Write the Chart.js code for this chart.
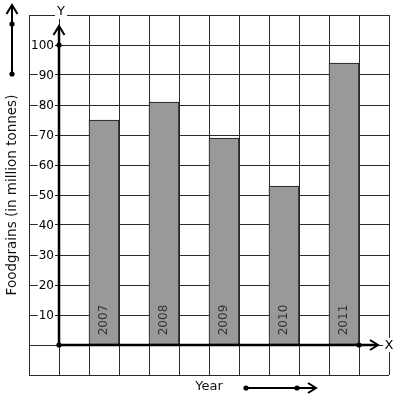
<!DOCTYPE html>
<html>
<head>
<meta charset="utf-8">
<script src="https://cdn.jsdelivr.net/npm/chart.js@4.4.0/dist/chart.umd.min.js"></script>
<style>
  html, body { margin: 0; padding: 0; background: #fff; }
  #wrap { width: 397px; height: 401px; }
</style>
</head>
<body>
<div id="wrap"><canvas id="chart" width="397" height="401"></canvas></div>
<script>
// data
const years = ['2007', '2008', '2009', '2010', '2011'];
const production = [75, 81, 69, 53, 94];   // million tonnes
const yTicks = [10, 20, 30, 40, 50, 60, 70, 80, 90, 100];
const yTitle = 'Foodgrains (in million tonnes)';
const xTitle = 'Year';

const FONT = '"DejaVu Sans", sans-serif';

// bars sit in every second grid cell, starting at the 2nd cell right of the Y axis
const barPoints = production.map((v, i) => ({ x: 1.5 + 2 * i, y: v }));

function arrowHead(ctx, tipX, tipY, dir) {
    ctx.beginPath();
    if (dir === 'up') {
        ctx.moveTo(tipX - 5.5, tipY + 9);
        ctx.lineTo(tipX, tipY);
        ctx.lineTo(tipX + 5.5, tipY + 9);
    } else {
        ctx.moveTo(tipX - 8, tipY - 5);
        ctx.lineTo(tipX, tipY);
        ctx.lineTo(tipX - 8, tipY + 5);
    }
    ctx.stroke();
}

function dot(ctx, x, y) {
    ctx.beginPath();
    ctx.arc(x, y, 2.6, 0, Math.PI * 2);
    ctx.fill();
}

const decorations = {
    id: 'decorations',
    afterDraw(chart) {
        const ctx = chart.ctx;
        const xs = chart.scales.x;
        const ys = chart.scales.y;
        const ox = xs.getPixelForValue(0);
        const oy = ys.getPixelForValue(0);

        ctx.save();
        ctx.strokeStyle = '#000';
        ctx.fillStyle = '#000';
        ctx.lineWidth = 2.5;
        ctx.lineCap = 'butt';

        // axes
        ctx.beginPath();
        ctx.moveTo(ox, oy);
        ctx.lineTo(ox, 27);
        ctx.stroke();
        ctx.beginPath();
        ctx.moveTo(ox, oy);
        ctx.lineTo(377, oy);
        ctx.stroke();
        ctx.lineWidth = 2;
        arrowHead(ctx, ox, 26, 'up');
        arrowHead(ctx, 378, oy, 'right');
        dot(ctx, ox, ys.getPixelForValue(100));
        dot(ctx, ox, oy);
        dot(ctx, xs.getPixelForValue(10), oy);

        // little arrows outside the grid
        ctx.lineWidth = 2;
        ctx.beginPath();
        ctx.moveTo(12, 74);
        ctx.lineTo(12, 6);
        ctx.stroke();
        arrowHead(ctx, 12, 5, 'up');
        dot(ctx, 12, 24);
        dot(ctx, 12, 74);

        ctx.beginPath();
        ctx.moveTo(246, 388);
        ctx.lineTo(315, 388);
        ctx.stroke();
        arrowHead(ctx, 316, 388, 'right');
        dot(ctx, 246, 388);
        dot(ctx, 297, 388);

        // tick labels with white backdrop
        ctx.font = '12px ' + FONT;
        ctx.textAlign = 'right';
        ctx.textBaseline = 'middle';
        yTicks.forEach(v => {
            const py = ys.getPixelForValue(v);
            const label = String(v);
            const w = ctx.measureText(label).width;
            ctx.fillStyle = '#fff';
            ctx.fillRect(54 - w - 1, py - 6, w + 2, 12);
            ctx.fillStyle = '#000';
            ctx.fillText(label, 54, py + 1);
        });

        // axis letters
        ctx.font = '13px ' + FONT;
        ctx.textAlign = 'center';
        ctx.fillStyle = '#fff';
        ctx.fillRect(55, 5, 12, 14);
        ctx.fillRect(383, 338, 12, 14);
        ctx.fillStyle = '#000';
        ctx.fillText('Y', 61, 12);
        ctx.fillText('X', 389, 346);

        // titles
        ctx.fillStyle = '#111';
        ctx.fillText(xTitle, 209, 387);
        ctx.save();
        ctx.translate(12, 195);
        ctx.rotate(-Math.PI / 2);
        ctx.font = '13.5px ' + FONT;
        ctx.fillText(yTitle, 0, 0);
        ctx.restore();

        // year labels inside the bars
        const meta = chart.getDatasetMeta(0);
        ctx.font = '12px ' + FONT;
        ctx.fillStyle = '#333';
        meta.data.forEach((bar, i) => {
            ctx.save();
            ctx.translate(bar.x, 320);
            ctx.rotate(-Math.PI / 2);
            ctx.fillText(years[i], 0, 0);
            ctx.restore();
        });
        ctx.restore();
    }
};

new Chart(document.getElementById('chart'), {
    type: 'bar',
    data: {
        datasets: [{
            data: barPoints,
            backgroundColor: '#999999',
            borderColor: '#111',
            borderWidth: 1,
            borderSkipped: false,
            categoryPercentage: 1,
            barPercentage: 1
        }]
    },
    options: {
        responsive: false,
        animation: false,
        layout: { padding: { left: 29, right: 8, top: 15, bottom: 26 } },
        plugins: { legend: { display: false }, tooltip: { enabled: false } },
        scales: {
            x: {
                type: 'linear',
                offset: false,
                min: -1, max: 11,
                ticks: { display: false, stepSize: 1 },
                grid: { color: '#2b2b2b', lineWidth: 1, drawTicks: false, offset: false },
                border: { display: false }
            },
            y: {
                min: -10, max: 110,
                ticks: { display: false, stepSize: 10 },
                grid: { color: '#2b2b2b', lineWidth: 1, drawTicks: false },
                border: { display: false }
            }
        }
    },
    plugins: [decorations]
});
</script>
</body>
</html>
